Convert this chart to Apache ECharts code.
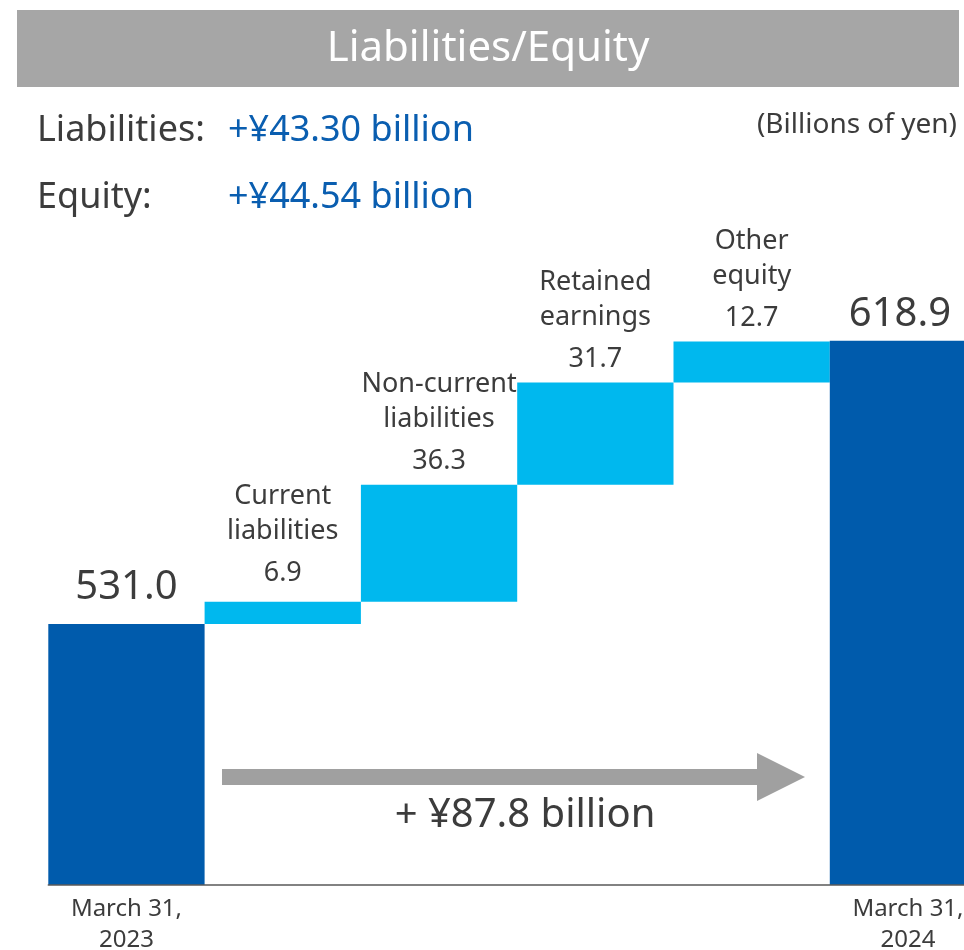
<!DOCTYPE html>
<html>
<head>
<meta charset="utf-8">
<script src="https://cdn.jsdelivr.net/npm/echarts@6/dist/echarts.min.js"></script>
<style>
html,body{margin:0;padding:0;background:#fff;}
#c{width:964px;height:950px;}
</style>
</head>
<body>
<div id="c"></div>
<script>
// ---- data ----
const categories = ['March 31,\n2023', 'Current\nliabilities', 'Non-current\nliabilities', 'Retained\nearnings', 'Other\nequity', 'March 31,\n2024'];
const startTotal = 531.0;
const endTotal = 618.9;
const changes = [6.9, 36.3, 31.7, 12.7];
const titleText = 'Liabilities/Equity';
const unitText = '(Billions of yen)';
const summaryLabels = ['Liabilities:', 'Equity:'];
const summaryValues = ['+¥43.30 billion', '+¥44.54 billion'];
const totalChangeText = '+ ¥87.8 billion';

// ---- build ----
const FONT = '"Noto Sans", sans-serif';
const DARK = '#005BAC';
const LIGHT = '#00B8EE';
const TXT = '#3C3C3C';

const helper = [];
const visible = [];
let run = startTotal;
helper.push('-'); visible.push(startTotal);
changes.forEach(v => { helper.push(+run.toFixed(1)); visible.push(v); run += v; });
helper.push('-'); visible.push(endTotal);

const last = categories.length - 1;
const visData = visible.map((v, i) => {
  const isTotal = (i === 0 || i === last);
  if (isTotal) {
    return {
      value: v,
      itemStyle: { color: DARK },
      label: {
        show: true, position: 'top', distance: i === 0 ? 16 : 6,
        offset: i === last ? [-8, 0] : [0, 0],
        formatter: p => p.value.toFixed(1),
        fontSize: 40, color: TXT, fontFamily: FONT
      }
    };
  }
  return {
    value: v,
    itemStyle: { color: LIGHT },
    label: {
      show: true, position: 'top', distance: i === 1 ? 3 : -2,
      formatter: p => p.name.split('\n').map(s => '{n|' + s + '}').join('\n') + '\n{v|' + p.value.toFixed(1) + '}',
      rich: {
        n: { fontSize: 27, lineHeight: 35, color: TXT, fontFamily: FONT, align: 'center' },
        v: { fontSize: 27, lineHeight: 50, color: TXT, fontFamily: FONT, align: 'center' }
      }
    }
  };
});

const chart = echarts.init(document.getElementById('c'));
chart.setOption({
  backgroundColor: '#fff',
  animation: false,
  textStyle: { fontFamily: FONT },
  grid: { left: 48.3, top: 240.4, width: 937.8, height: 644.6, containLabel: false, outerBoundsMode: 'none' },
  xAxis: {
    type: 'category',
    data: categories,
    axisTick: { show: false },
    axisLine: { lineStyle: { color: '#5a5a5a', width: 1.5 } },
    axisLabel: {
      interval: 0, margin: 9, fontSize: 24, lineHeight: 31, color: TXT, fontFamily: FONT,
      formatter: (v, i) => (i === 0 || i === last) ? v : ''
    },
    z: 10
  },
  yAxis: {
    type: 'value', min: 450, max: 650,
    show: false,
    splitLine: { show: false }
  },
  series: [
    {
      type: 'bar', stack: 'w', data: helper, barCategoryGap: '0%',
      itemStyle: { color: 'transparent' }, silent: true
    },
    {
      type: 'bar', stack: 'w', data: visData, barCategoryGap: '0%', clip: true
    }
  ],
  graphic: [
    { type: 'rect', shape: { x: 17, y: 10, width: 942, height: 77 }, style: { fill: '#A6A6A6' } },
    { type: 'text', style: { x: 488, y: 49, text: titleText, fill: '#fff', font: '42px ' + FONT, textAlign: 'center', textVerticalAlign: 'middle' } },
    { type: 'text', style: { x: 37, y: 131, text: summaryLabels[0], fill: TXT, font: '36px ' + FONT, textAlign: 'left', textVerticalAlign: 'middle' } },
    { type: 'text', style: { x: 228, y: 131, text: summaryValues[0], fill: '#0A5EB0', font: '36px ' + FONT, textAlign: 'left', textVerticalAlign: 'middle' } },
    { type: 'text', style: { x: 37, y: 198, text: summaryLabels[1], fill: TXT, font: '36px ' + FONT, textAlign: 'left', textVerticalAlign: 'middle' } },
    { type: 'text', style: { x: 228, y: 198, text: summaryValues[1], fill: '#0A5EB0', font: '36px ' + FONT, textAlign: 'left', textVerticalAlign: 'middle' } },
    { type: 'text', style: { x: 957, y: 125, text: unitText, fill: TXT, font: '28px ' + FONT, textAlign: 'right', textVerticalAlign: 'middle' } },
    { type: 'polygon', shape: { points: [[222,769],[757,769],[757,753],[805,777],[757,801],[757,785],[222,785]] }, style: { fill: '#A0A0A0' } },
    { type: 'text', style: { x: 525, y: 816, text: totalChangeText, fill: TXT, font: '40px ' + FONT, textAlign: 'center', textVerticalAlign: 'middle' } }
  ]
});
</script>
</body>
</html>
